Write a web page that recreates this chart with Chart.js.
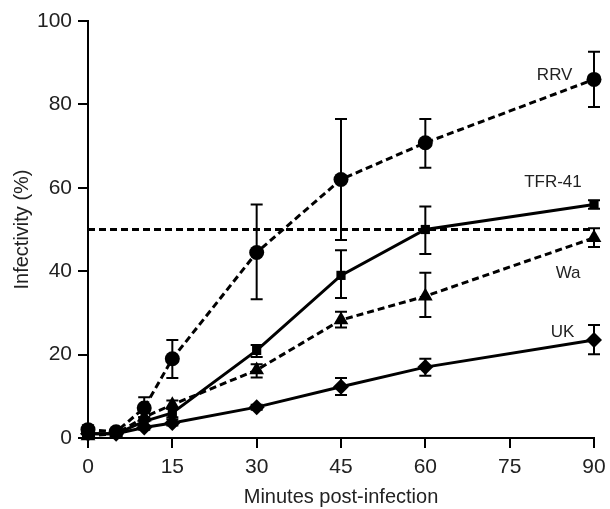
<!DOCTYPE html>
<html>
<head>
<meta charset="utf-8">
<script src="https://cdn.jsdelivr.net/npm/chart.js@4/dist/chart.umd.min.js"></script>
<style>
  html, body { margin: 0; padding: 0; background: #fff; }
  #box { width: 610px; height: 509px; position: relative; }
</style>
</head>
<body>
<div id="box"><canvas id="grafico"></canvas></div>
<script>
// minuti dopo l'infezione
let minuti = [0, 5, 10, 15, 30, 45, 60, 90];

// valori (%)
let rrv   = [2, 1.5, 7.2, 19, 44.5, 62, 70.8, 86];
let rrvHi = [3, 2, 9.8, 23.5, 56, 76.5, 76.5, 92.6];
let rrvLo = [1, 1, 5, 14.4, 33.3, 47.5, 64.8, 79.4];

let tfr   = [1, 1, 4, 6, 21, 39, 50, 56];
let tfrHi = [1.5, 1.5, 5, 7, 22.3, 45, 55.5, 57];
let tfrLo = [0.5, 0.5, 3, 5, 19.4, 33.6, 44.1, 55];

let wa   = [0.5, 1, 5, 8, 16.3, 28.3, 34, 48];
let waHi = [1, 1.5, 6, 9, 17.7, 30.3, 39.6, 50.3];
let waLo = [0, 0.5, 4, 7, 14.5, 26.5, 29, 45.8];

let uk   = [1, 1, 2.5, 3.6, 7.4, 12.3, 17, 23.5];
let ukHi = [1.5, 1.5, 3, 4.5, 8, 14.4, 19, 27.1];
let ukLo = [0.5, 0.5, 2, 3, 6.8, 10.3, 14.9, 20.1];

let soglia = 50;
let xTicks = [0, 15, 30, 45, 60, 75, 90];

// etichette delle serie: testo, x, y (in unita dei dati)
let etichette = ["RRV", "TFR-41", "Wa", "UK"];
let etichetteX = [83, 82.7, 85.4, 84.4];
let etichetteY = [87, 61.2, 39.6, 25.4];

function punti(valori)
{
  let out = [];
  for (let i = 0; i < minuti.length; i++)
    out.push({x: minuti[i], y: valori[i]});
  return out;
}

function serie(label, valori, hi, lo, stile, tratteggio, raggio)
{
  return {
    label: label,
    data: punti(valori),
    hi: hi,
    lo: lo,
    borderColor: '#000',
    backgroundColor: '#000',
    borderWidth: 3,
    borderDash: tratteggio,
    pointStyle: stile,
    pointRadius: raggio,
    pointBorderWidth: 0,
    pointBackgroundColor: '#000',
    tension: 0,
    clip: false
  };
}

const erroriPlugin = {
  id: 'errori',
  afterDatasetsDraw(chart) {
    const ctx = chart.ctx;
    const xs = chart.scales.x, ys = chart.scales.y;
    ctx.save();
    ctx.strokeStyle = '#000';
    ctx.lineWidth = 2;
    ctx.setLineDash([]);
    chart.data.datasets.forEach(function(ds) {
      if (!ds.hi) return;
      for (let i = 0; i < minuti.length; i++) {
        const px = xs.getPixelForValue(minuti[i]);
        const top = ys.getPixelForValue(ds.hi[i]);
        const bot = ys.getPixelForValue(ds.lo[i]);
        if (Math.abs(bot - top) < 3) continue;
        ctx.beginPath();
        ctx.moveTo(px, top); ctx.lineTo(px, bot);
        ctx.moveTo(px - 6, top); ctx.lineTo(px + 6, top);
        ctx.moveTo(px - 6, bot); ctx.lineTo(px + 6, bot);
        ctx.stroke();
      }
    });
    ctx.fillStyle = '#222';
    ctx.font = '17px "Liberation Sans", Arial, sans-serif';
    ctx.textAlign = 'center';
    ctx.textBaseline = 'middle';
    for (let i = 0; i < etichette.length; i++) {
      ctx.fillText(etichette[i], xs.getPixelForValue(etichetteX[i]), ys.getPixelForValue(etichetteY[i]));
    }
    ctx.restore();
  }
};

const fontTick = { family: '"Liberation Sans", Arial, sans-serif', size: 21 };
const fontTitolo = { family: '"Liberation Sans", Arial, sans-serif', size: 20 };

new Chart(document.getElementById('grafico'), {
  type: 'line',
  data: {
    datasets: [
      {
        label: 'soglia',
        data: [{x: 0, y: soglia}, {x: 90, y: soglia}],
        borderColor: '#000',
        borderWidth: 3,
        borderDash: [7, 4],
        pointRadius: 0,
        clip: false
      },
      serie('UK', uk, ukHi, ukLo, 'rectRot', [], 8),
      serie('Wa', wa, waHi, waLo, 'triangle', [7, 4], 8.5),
      serie('TFR-41', tfr, tfrHi, tfrLo, 'rect', [], 6.5),
      serie('RRV', rrv, rrvHi, rrvLo, 'circle', [7, 4], 7.5)
    ]
  },
  options: {
    responsive: true,
    maintainAspectRatio: false,
    animation: false,
    layout: { padding: { left: 0, right: 16, top: 21, bottom: 0 } },
    plugins: { legend: { display: false }, tooltip: { enabled: false } },
    scales: {
      x: {
        type: 'linear',
        min: 0, max: 90,
        afterBuildTicks: function(s) { s.ticks = xTicks.map(v => ({value: v})); },
        afterFit: function(s) { s.height = 71; s.paddingRight = 0; s.paddingLeft = 0; },
        grid: { drawOnChartArea: false, drawTicks: true, tickLength: 10, color: '#000', lineWidth: 2 },
        border: { display: true, color: '#000', width: 2 },
        ticks: { color: '#222', font: fontTick, padding: 7, maxRotation: 0 },
        title: { display: true, text: 'Minutes post-infection', color: '#222', font: fontTitolo, padding: { top: 4, bottom: 0 } }
      },
      y: {
        min: 0, max: 100,
        afterFit: function(s) { s.width = 88; s.paddingTop = 0; s.paddingBottom = 0; },
        grid: { drawOnChartArea: false, drawTicks: true, tickLength: 10, color: '#000', lineWidth: 2 },
        border: { display: true, color: '#000', width: 2 },
        ticks: { stepSize: 20, color: '#222', font: fontTick, padding: 6 },
        title: { display: true, text: 'Infectivity (%)', color: '#222', font: fontTitolo, padding: { top: 10, bottom: 0 } }
      }
    }
  },
  plugins: [erroriPlugin]
});
</script>
</body>
</html>
